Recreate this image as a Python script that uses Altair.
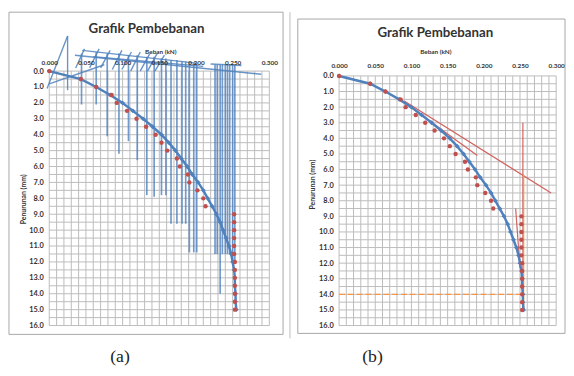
import altair as alt
import pandas as pd

# ---------------- data ----------------
settle_mm = [0.0, 0.5, 1.0, 1.5, 2.0, 2.5, 3.0, 3.5, 4.0, 4.5, 5.0, 5.5, 6.0, 6.5, 7.0, 7.5,
             8.0, 8.5, 9.0, 9.5, 10.0, 10.5, 11.0, 11.5, 12.0, 12.5, 13.0, 13.5, 14.0, 14.5, 15.0]
load_blue = [0.000, 0.043, 0.064, 0.083, 0.100, 0.114, 0.128, 0.141, 0.153, 0.163, 0.172, 0.180,
             0.188, 0.195, 0.203, 0.210, 0.216, 0.222, 0.228, 0.233, 0.237, 0.241, 0.245, 0.248,
             0.250, 0.252, 0.253, 0.253, 0.254, 0.254, 0.255]
load_red = [0.000, 0.043, 0.064, 0.085, 0.092, 0.106, 0.119, 0.132, 0.145, 0.153, 0.161, 0.174,
            0.178, 0.189, 0.191, 0.202, 0.210, 0.213, 0.252, 0.252, 0.252, 0.252, 0.252, 0.252,
            0.253, 0.253, 0.253, 0.253, 0.253, 0.253, 0.253]

x_ticks = [0.0, 0.05, 0.10, 0.15, 0.20, 0.25, 0.30]
y_ticks = [0, 1, 2, 3, 4, 5, 6, 7, 8, 9, 10, 11, 12, 13, 14, 15, 16]
grid_x = [i / 100 for i in range(31)]
grid_y = [j / 2 for j in range(33)]

# panel (a): vertical blue bars (error-bar like artefacts)
bar_x = [0.044, 0.064, 0.079, 0.095, 0.108, 0.120, 0.133, 0.143, 0.153, 0.159, 0.166, 0.174,
         0.181, 0.186, 0.191, 0.197, 0.201, 0.226, 0.229, 0.233, 0.236, 0.240, 0.243, 0.246,
         0.250, 0.253]
bar_top = [-1.1, -1.2, -1.1, -1.1, -1.0, -1.0, -0.9, -0.9, -0.8, -0.8, -0.7, -0.7, -0.6, -0.6,
           -0.5, -0.5, -0.5, -0.4, -0.4, -0.4, -0.4, -0.4, -0.4, -0.4, -0.4, -0.4]
bar_bottom = [2.1, 2.1, 4.1, 5.2, 4.4, 5.6, 7.8, 7.9, 7.8, 7.8, 9.6, 9.6, 9.6, 9.6, 11.4, 11.4,
              11.4, 11.5, 11.5, 14.0, 11.5, 11.5, 11.5, 11.5, 12.0, 12.0]
# panel (a): slanted strokes at the top
fan_x1 = [-0.003, 0.025, 0.000, 0.035, 0.045, 0.060, 0.220, 0.036, 0.055, 0.070, 0.086, 0.099, 0.111, 0.124, 0.134, 0.144]
fan_y1 = [1.1, -2.2, 0.8, -1.0, -1.3, -0.9, -0.45, -0.2, -0.2, -0.2, -0.1, -0.1, 0.0, 0.0, 0.0, 0.0]
fan_x2 = [0.025, 0.025, 0.075, 0.289, 0.200, 0.210, 0.262, 0.048, 0.068, 0.083, 0.099, 0.112, 0.124, 0.137, 0.147, 0.157]
fan_y2 = [-2.2, 1.2, -0.4, 0.2, -0.5, -0.3, -0.35, -1.4, -1.4, -1.3, -1.3, -1.2, -1.2, -1.1, -1.1, -1.0]

# panel (b): construction lines
red_x1 = [0.090, 0.090, 0.254, 0.244]
red_y1 = [1.6, 1.7, 3.0, 8.5]
red_x2 = [0.293, 0.191, 0.254, 0.250]
red_y2 = [7.5, 5.1, 15.0, 12.3]
org_x1 = [0.000, 0.255]
org_y1 = [14.0, 6.3]
org_x2 = [0.255, 0.255]
org_y2 = [14.0, 15.0]
org_dash = ["dash", "solid"]

BLUE = "#4F81BD"
RED = "#C0504D"
ORANGE = "#F79646"
GRID = "#bcbcbc"
TXT = "#333333"

blue_df = pd.DataFrame({"x": load_blue, "y": settle_mm})
red_df = pd.DataFrame({"x": load_red, "y": settle_mm})
gv = pd.DataFrame({"x": grid_x, "x2": grid_x, "y": [0.0] * len(grid_x), "y2": [16.0] * len(grid_x)})
gh = pd.DataFrame({"x": [0.0] * len(grid_y), "x2": [0.3] * len(grid_y), "y": grid_y, "y2": grid_y})
grid_df = pd.concat([gv, gh], ignore_index=True)
bars_df = pd.DataFrame({"x": bar_x, "x2": bar_x, "y": bar_top, "y2": bar_bottom})
fan_df = pd.DataFrame({"x": fan_x1, "x2": fan_x2, "y": fan_y1, "y2": fan_y2})
red_lines = pd.DataFrame({"x": red_x1, "x2": red_x2, "y": red_y1, "y2": red_y2})
org_lines = pd.DataFrame({"x": org_x1, "x2": org_x2, "y": org_y1, "y2": org_y2, "d": org_dash})
one = pd.DataFrame({"k": [0]})

FONT = "Lato"


def panel(tag):
    if tag == "a":
        ydom = [0, 16]
        lab_pad_x = 6
        title_x = 113
        ytitle_x, ytitle_y = -26, 130
        frame = (-41, 238, -60, 268)
        title_pos = (99, -43)
        cap_pos = (72, 291)
    else:
        ydom = [-0.31, 16]
        lab_pad_x = 3
        title_x = 98
        ytitle_x, ytitle_y = -27, 115
        frame = (-42, 230, -53, 267)
        title_pos = (98, -39)
        cap_pos = (34, 291)

    sx = alt.Scale(domain=[0, 0.3], nice=False, zero=False)
    sy = alt.Scale(domain=ydom, nice=False, zero=False, reverse=True)
    axx = alt.Axis(orient="top", values=x_ticks, format=".3f", title="Beban (kN)",
                   labelPadding=lab_pad_x, titleX=title_x, titleY=-20, titleBaseline="middle",
                   titleAlign="center", ticks=False, tickSize=0, domain=False, grid=False,
                   labelFlush=False, labelOverlap=False, zindex=1,
                   labelFont=FONT, labelFontSize=6.5, labelFontWeight="bold", labelColor=TXT,
                   titleFont=FONT, titleFontSize=6.5, titleFontWeight="bold", titleColor=TXT)
    axy = alt.Axis(orient="left", values=y_ticks, format=".1f", title="Penurunan (mm)",
                   labelPadding=6, titleX=ytitle_x, titleY=ytitle_y, titleAngle=270,
                   titleBaseline="middle", titleAlign="center", ticks=False, tickSize=0,
                   domain=False, grid=False, labelFlush=False, labelOverlap=False, zindex=1,
                   labelFont=FONT, labelFontSize=7.5, labelFontWeight="bold", labelColor=TXT,
                   titleFont=FONT, titleFontSize=7, titleFontWeight="bold", titleColor=TXT)
    X = alt.X("x:Q", scale=sx, axis=axx)
    Y = alt.Y("y:Q", scale=sy, axis=axy)

    layers = []
    fx1, fx2, fy1, fy2 = frame
    layers.append(alt.Chart(one).mark_rect(fillOpacity=0, stroke="#a6a6a6", strokeWidth=1).encode(
        x=alt.value(fx1), x2=alt.value(fx2), y=alt.value(fy1), y2=alt.value(fy2)))
    if tag == "b":
        layers.append(alt.Chart(one).mark_rule(color="#bdbdbd", strokeWidth=1).encode(
            x=alt.value(-50), y=alt.value(-60), y2=alt.value(272)))
    layers.append(alt.Chart(grid_df).mark_rule(color=GRID, strokeWidth=1).encode(
        x=X, x2="x2:Q", y=Y, y2="y2:Q"))
    if tag == "a":
        layers.append(alt.Chart(bars_df).mark_rule(color=BLUE, strokeWidth=1.7, opacity=0.8).encode(
            x=X, x2="x2:Q", y=Y, y2="y2:Q"))
        layers.append(alt.Chart(fan_df).mark_rule(color=BLUE, strokeWidth=1.4, opacity=0.85).encode(
            x=X, x2="x2:Q", y=Y, y2="y2:Q"))
    else:
        layers.append(alt.Chart(red_lines).mark_rule(color="#d0625e", strokeWidth=1.2).encode(
            x=X, x2="x2:Q", y=Y, y2="y2:Q"))
        layers.append(alt.Chart(org_lines).mark_rule(color=ORANGE, strokeWidth=1.3).encode(
            x=X, x2="x2:Q", y=Y, y2="y2:Q",
            strokeDash=alt.StrokeDash("d:N", scale=alt.Scale(domain=["dash", "solid"],
                                                             range=[[6, 3], [1, 0]]), legend=None)))
    layers.append(alt.Chart(blue_df).mark_line(color=BLUE, strokeWidth=2.5).encode(x=X, y=Y, order="y:Q"))
    layers.append(alt.Chart(blue_df).mark_point(shape="diamond", filled=True, color=BLUE, size=24,
                                                opacity=1).encode(x=X, y=Y))
    layers.append(alt.Chart(red_df).mark_point(shape="circle", filled=True, color=RED, size=20,
                                               opacity=1).encode(x=X, y=Y))
    layers.append(alt.Chart(one).mark_text(text="Grafik Pembebanan", font=FONT, fontSize=13.5,
                                           fontWeight="bold", color="#333333", align="center",
                                           baseline="middle").encode(
        x=alt.value(title_pos[0]), y=alt.value(title_pos[1])))
    layers.append(alt.Chart(one).mark_text(text="(" + tag + ")", font="Liberation Serif",
                                           fontSize=18, color="#222222", align="center",
                                           baseline="middle").encode(
        x=alt.value(cap_pos[0]), y=alt.value(cap_pos[1])))
    return alt.layer(*layers).properties(width=224 if tag == "a" else 221, height=259)


chart = alt.hconcat(panel("a"), panel("b"), spacing=5).resolve_scale(
    x="independent", y="independent").configure_view(stroke=None).properties(
    padding=0, background="white")

chart.save("out.html", embed_options={"renderer": "svg", "actions": False})
